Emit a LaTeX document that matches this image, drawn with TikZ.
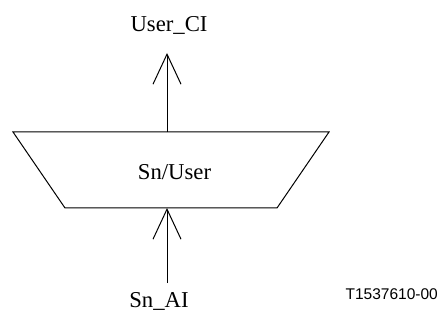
\documentclass[tikz,border=0pt]{standalone}
\usepackage{fontspec}
\setmainfont{Liberation Serif}
\newfontfamily\tagfont{Liberation Sans}
\usetikzlibrary{arrows.meta}
\begin{document}
\begin{tikzpicture}[x=1pt,y=-1pt,
  lbl/.style={inner sep=0pt,font=\fontsize{22.7}{26}\selectfont},
  tag/.style={inner sep=0pt,font=\tagfont\fontsize{15.5}{18}\selectfont},
  shapeline/.style={line width=1pt,line join=miter},
  flow/.style={line width=1pt,-{Straight Barb[length=30pt,width=28pt,line width=1pt]}}]
\useasboundingbox (0,0) rectangle (439,323);
% trapezoid corners
\coordinate (tl) at (13,132);
\coordinate (tr) at (329,132);
\coordinate (br) at (277,208);
\coordinate (bl) at (65,208);
\draw[shapeline] (tl) -- (tr) -- (br) -- (bl) -- cycle;
\node[lbl,anchor=base] (box) at (174.5,180) {Sn/User};
% arrow ends
\coordinate (topstart) at (167,132);
\coordinate (toptip) at (167,53);
\coordinate (botstart) at (167,283);
\coordinate (bottip) at (167,208);
\node[lbl,anchor=base] (out) at (169,32) {User\_CI};
\node[lbl,anchor=base] (in) at (159,307) {Sn\_AI};
\node[tag,anchor=base east] (tagn) at (438,299) {T1537610-00};
\draw[flow] (topstart) -- (toptip);
\draw[flow] (botstart) -- (bottip);
\end{tikzpicture}
\end{document}
